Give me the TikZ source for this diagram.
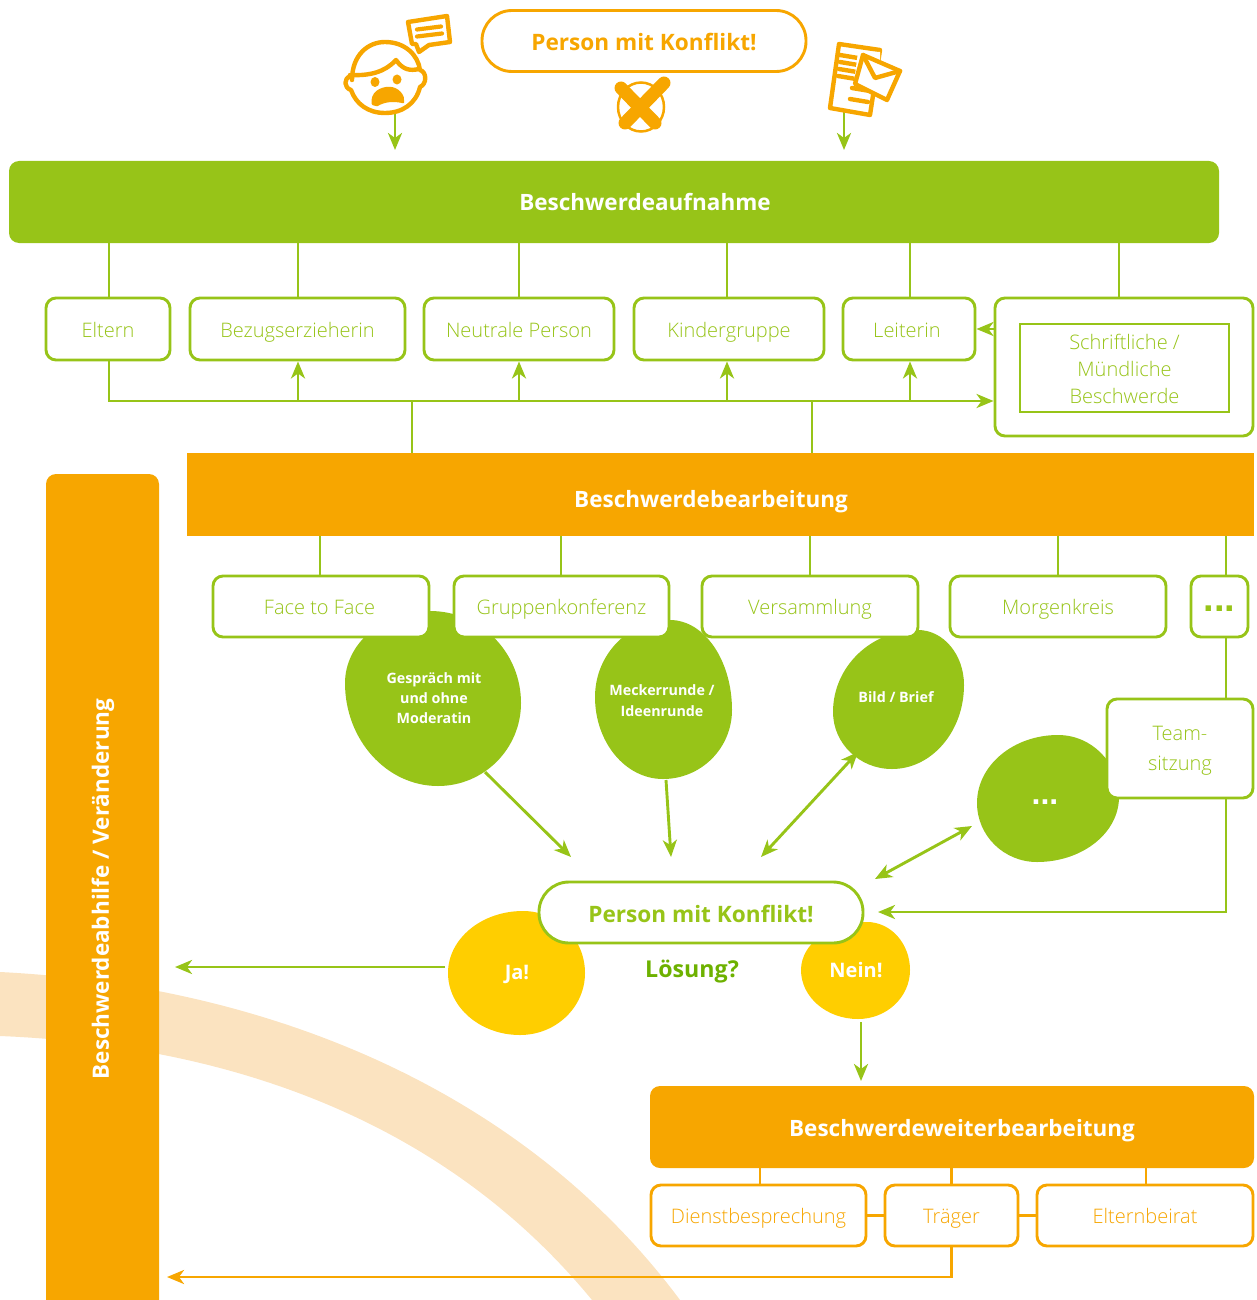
\documentclass[tikz,border=0pt]{standalone}
\usepackage{fontspec}
\setmainfont{Open Sans}
\newfontfamily\lightf{Open Sans Light}
\newfontfamily\dotf{Liberation Sans}
\usetikzlibrary{arrows.meta}
\definecolor{grn}{HTML}{97C418}
\definecolor{org}{HTML}{F7A600}
\definecolor{yel}{HTML}{FFCE00}
\definecolor{dgrn}{HTML}{6DB100}
\definecolor{band}{HTML}{FBE3C0}
\newcommand{\blobshape}[9]{%
  \pgfmathsetmacro{\kk}{0.5523}%
  \pgfmathsetmacro{\aay}{#3-\kk*(#3-#5)}\pgfmathsetmacro{\abx}{#4-\kk*(#4-#2)}%
  \pgfmathsetmacro{\bax}{#4+\kk*(#6-#4)}\pgfmathsetmacro{\bby}{#7-\kk*(#7-#5)}%
  \pgfmathsetmacro{\cay}{#7+\kk*(#9-#7)}\pgfmathsetmacro{\cbx}{#8+\kk*(#6-#8)}%
  \pgfmathsetmacro{\dax}{#8-\kk*(#8-#2)}\pgfmathsetmacro{\dby}{#3+\kk*(#9-#3)}%
  \fill[#1] (#2,#3) .. controls (#2,\aay) and (\abx,#5) .. (#4,#5)
    .. controls (\bax,#5) and (#6,\bby) .. (#6,#7)
    .. controls (#6,\cay) and (\cbx,#9) .. (#8,#9)
    .. controls (\dax,#9) and (#2,\dby) .. (#2,#3) -- cycle;}
\tikzset{
  x=1pt,y=-1pt,
  tip/.tip={Stealth[length=17pt,width=14pt,inset=5pt]},
  gline/.style={draw=grn,line width=2.9pt},
  oline/.style={draw=org,line width=2.9pt},
  lbl/.style={font=\lightf\fontsize{20}{27}\selectfont,align=center,inner sep=0pt},
  one/.style={text height=16pt,text depth=0pt},
  gbox/.style={lbl,draw=grn,line width=2.9pt,fill=white,rounded corners=10pt,text=grn},
  obox/.style={lbl,draw=org,line width=2.9pt,fill=white,rounded corners=10pt,text=org},
  bar/.style={rounded corners=10pt,inner sep=0pt},
  title/.style={text=white,anchor=base,inner sep=0pt,font=\bfseries\fontsize{22.5}{28}\selectfont},
  blobtxt/.style={text=white,font=\bfseries\fontsize{14.3}{20}\selectfont,align=center,inner sep=0pt},
  yeltxt/.style={text=white,font=\bfseries\fontsize{20}{24}\selectfont,inner sep=0pt},
  pill/.style={draw,line width=2.9pt,fill=white,rounded corners=30pt,inner sep=0pt,text height=19pt,text depth=0pt,font=\bfseries\fontsize{22.6}{28}\selectfont},
  icon/.style={draw=org,line width=4.4pt,line join=round,line cap=round},
  dotstxt/.style={anchor=base,inner sep=0pt,font=\dotf\bfseries\fontsize{38}{38}\selectfont},
}
\begin{document}
\begin{tikzpicture}
\useasboundingbox (0,0) rectangle (1257,1300);
% background band
\begin{scope}
\clip (0,0) rectangle (1257,1300);
\fill[band] (0,972) .. controls (260,985) and (520,1085) .. (680,1300) -- (592,1300) .. controls (440,1115) and (220,1045) .. (0,1036) -- cycle;
\end{scope}
% bars
\node[bar,fill=grn,minimum width=1210,minimum height=82] (auf) at (614,202) {};
\node[title] (auft) at (645,211) {Beschwerdeaufnahme};
\node[bar,fill=org,rounded corners=0pt,minimum width=1067,minimum height=83] (bearb) at (720.5,494.5) {};
\node[title] (bearbt) at (711,507) {Beschwerdebearbeitung};
\node[bar,fill=org,minimum width=604,minimum height=82] (weiter) at (952,1127) {};
\node[title] (weitert) at (962,1136) {Beschwerdeweiterbearbeitung};
\begin{scope}
\clip (0,0) rectangle (1257,1300);
\node[bar,fill=org,minimum width=113,minimum height=860] (abh) at (102.5,904) {};
\end{scope}
\node[title,anchor=center,rotate=90] (abht) at (103,889) {Beschwerdeabhilfe / Veränderung};
% blobs
\blobshape{grn}{345}{683}{430}{611}{521}{703}{438}{786}
\blobshape{grn}{595}{697}{670}{620}{732}{710}{663}{779}
\blobshape{grn}{833}{712}{918}{630}{964}{685}{892}{769}
\blobshape{grn}{977}{803}{1058}{735}{1119}{797}{1037}{862}
\blobshape{yel}{448}{973}{523}{911}{585}{973}{520}{1035}
\blobshape{yel}{801}{970}{867}{922}{910}{970}{858}{1019}
\node[blobtxt] (b1) at (434,698) {Gespräch mit\\und ohne\\Moderatin};
\node[blobtxt,font=\bfseries\fontsize{14.3}{21}\selectfont] (b2) at (662,701) {Meckerrunde /\\Ideenrunde};
\node[blobtxt] (b3) at (896,697) {Bild / Brief};
\node[dotstxt,text=white,font=\dotf\bfseries\fontsize{32}{32}\selectfont] (b4) at (1045,804) {...};
\node[yeltxt] (ja) at (517,974) {Ja!};
\node[yeltxt] (nein) at (856,970) {Nein!};
% row 1
\node[gbox,one,minimum width=124,minimum height=62] (eltern) at (108,329) {Eltern};
\node[gbox,one,minimum width=215,minimum height=62] (bezug) at (297.5,329) {Bezugserzieherin};
\node[gbox,one,minimum width=190,minimum height=62] (neutral) at (519,329) {Neutrale Person};
\node[gbox,one,minimum width=190,minimum height=62] (kinder) at (729,329) {Kindergruppe};
\node[gbox,one,minimum width=132,minimum height=62] (leit) at (909,329) {Leiterin\kern4pt};
\node[gbox,minimum width=258,minimum height=138] (outer) at (1124,367) {};
\node[lbl,draw=grn,line width=2.9pt,minimum width=209,minimum height=88] (inner) at (1124.5,368) {};
\node[lbl,text=grn] (innert) at (1124.5,369) {Schriftliche /\\Mündliche\\Beschwerde};
\coordinate (j0) at (109,401);
\coordinate (j1) at (412,401);
\coordinate (j2) at (812,401);
\foreach \xx/\nm in {109/eltern,298/bezug,519/neutral,727/kinder,910/leit,1119/outer}
  \draw[gline] (auf.south -| \xx,0) -- (\nm.north -| \xx,0);
\draw[gline,-{tip}] (eltern.south -| j0) -- (j0) -- (outer.west |- j0);
\foreach \xx/\nm in {298/bezug,519/neutral,727/kinder,910/leit}
  \draw[gline,-{tip}] (\xx,401) -- (\nm.south -| \xx,0);
\draw[gline] (bearb.north -| j1) -- (j1);
\draw[gline] (bearb.north -| j2) -- (j2);
\draw[gline,-{tip}] (outer.west |- leit) -- (leit.east);
% row 2
\node[gbox,one,minimum width=216,minimum height=61] (face) at (321,606.5) {Face to Face\kern3pt};
\node[gbox,one,minimum width=215,minimum height=61] (grup) at (561.5,606.5) {Gruppenkonferenz};
\node[gbox,one,minimum width=216,minimum height=61] (vers) at (810,606.5) {Versammlung};
\node[gbox,one,minimum width=216,minimum height=61] (morg) at (1058,606.5) {Morgenkreis};
\node[gbox,minimum width=57,minimum height=61] (dots) at (1219.5,606.5) {};
\node[dotstxt,text=grn] (dotst) at (1219.5,611) {...};
\node[gbox,minimum width=146,minimum height=99] (team) at (1180,748.5) {};
\node[lbl,text=grn,font=\lightf\fontsize{20}{30}\selectfont] (teamt) at (1180,751) {Team-\\sitzung};
\foreach \xx/\nm in {320/face,561/grup,810/vers,1058/morg,1226/dots}
  \draw[gline] (bearb.south -| \xx,0) -- (\nm.north -| \xx,0);
\coordinate (tx) at (1226,700);
\draw[gline] (dots.south -| tx) -- (team.north -| tx);
% central pill
\node[pill,draw=grn,text=grn,minimum width=324,minimum height=61] (pg) at (701,912.5) {Person mit Konflikt!};
\node[text=dgrn,font=\bfseries\fontsize{23.2}{28}\selectfont,inner sep=0pt,anchor=base] (loes) at (692,977) {Lösung?};
\coordinate (e1) at (571,857);
\coordinate (e2) at (671,857);
\coordinate (e3) at (761,857);
\coordinate (e4) at (875,879);
\coordinate (e5) at (972,826);
\coordinate (s1) at (485,772);
\coordinate (s2) at (666,780);
\coordinate (s3) at (858,752);
\draw[gline,-{tip}] (s1) -- (e1);
\draw[gline,-{tip}] (s2) -- (e2);
\draw[gline,{tip}-{tip}] (s3) -- (e3);
\draw[gline,{tip}-{tip}] (e4) -- (e5);
\coordinate (e6) at (878,912);
\draw[gline,-{tip}] (team.south -| tx) -- (tx |- e6) -- (e6);
\coordinate (jastart) at (445,967);
\coordinate (jaend) at (175,967);
\draw[gline,-{tip}] (jastart) -- (jaend);
\coordinate (ns) at (861,1022);
\coordinate (ne) at (861,1081);
\draw[gline,-{tip}] (ns) -- (ne);
% row 3
\node[obox,one,minimum width=215,minimum height=61] (dienst) at (758.5,1215.5) {Dienstbesprechung};
\node[obox,one,minimum width=133,minimum height=61] (traeger) at (951.5,1215.5) {Träger};
\node[obox,one,minimum width=216,minimum height=61] (ebeirat) at (1145,1215.5) {Elternbeirat};
\draw[oline] (weiter.south -| 760,0) -- (dienst.north -| 760,0);
\draw[oline] (weiter.south -| traeger) -- (traeger.north);
\draw[oline] (weiter.south -| 1146,0) -- (ebeirat.north -| 1146,0);
\draw[oline] (dienst.east) -- (traeger.west);
\draw[oline] (traeger.east) -- (ebeirat.west);
\coordinate (tb) at (951.5,1277);
\coordinate (te) at (167,1277);
\draw[oline,-{tip}] (traeger.south) -- (tb) -- (te);
% top pill
\node[pill,draw=org,text=org,minimum width=324,minimum height=61] (po) at (644,41) {Person mit Konflikt!};
% top arrows
\coordinate (a1) at (395,112);
\coordinate (a2) at (844,112);
\draw[gline,-{tip}] (a1) -- (a1 |- 0,150);
\draw[gline,-{tip}] (a2) -- (a2 |- 0,150);
% face icon
\draw[icon,fill=white] (352,80) .. controls (352,55) and (368,42) .. (385,42) .. controls (405,42) and (418,55) .. (420,70)
 .. controls (427,72) and (427,84) .. (420,87) .. controls (416,104) and (402,113) .. (385,113) .. controls (368,113) and (356,104) .. (351,90)
 .. controls (344,88) and (343,78) .. (351,76);
\draw[icon] (350,75) .. controls (370,76) and (385,72) .. (396,60) .. controls (403,70) and (410,71) .. (419,69);
\fill[org] (375,82) ellipse (4.5 and 5);
\fill[org] (397,79.5) ellipse (4.5 and 5);
\filldraw[icon,line width=2.5pt,fill=org] (373,104) .. controls (371,93) and (381,88) .. (389,88) .. controls (398,88) and (404,96) .. (403,102) .. controls (395,100) and (385,100) .. (377,105) -- cycle;
% speech bubble
\draw[icon,fill=white] (408,22) -- (447,16) -- (450,42) -- (429,45) -- (419,52) -- (416,44) -- (412,44) -- cycle;
\draw[icon,line width=4.2pt] (417,29.5) -- (441,26.5);
\draw[icon,line width=4.2pt] (417,36.5) -- (442,33.5);
% X icon
\draw[draw=org,line width=2.5pt] (641,107) ellipse (23 and 24.5);
\draw[draw=org,line width=13pt,line cap=round] (621,88) -- (655,123);
\draw[draw=org,line width=13pt,line cap=round] (664,83) -- (625,123);
% document icon
\draw[icon,fill=white] (839,44) -- (880,50) -- (870,115) -- (830,108) -- cycle;
\foreach \yy/\xe in {55/858,62/858,69/857,76/856,88/870,99/868}
  \draw[icon,line width=4.4pt] (\xe-18,\yy) -- (\xe,\yy+3);
\fill[white] (858,52) -- (880,52) -- (880,85) -- (854,82) -- cycle;
\draw[icon,fill=white] (863,55) -- (900,71) -- (887,100) -- (855,84) -- cycle;
\draw[icon] (863,55) -- (875,78) -- (900,71);
\end{tikzpicture}
\end{document}
